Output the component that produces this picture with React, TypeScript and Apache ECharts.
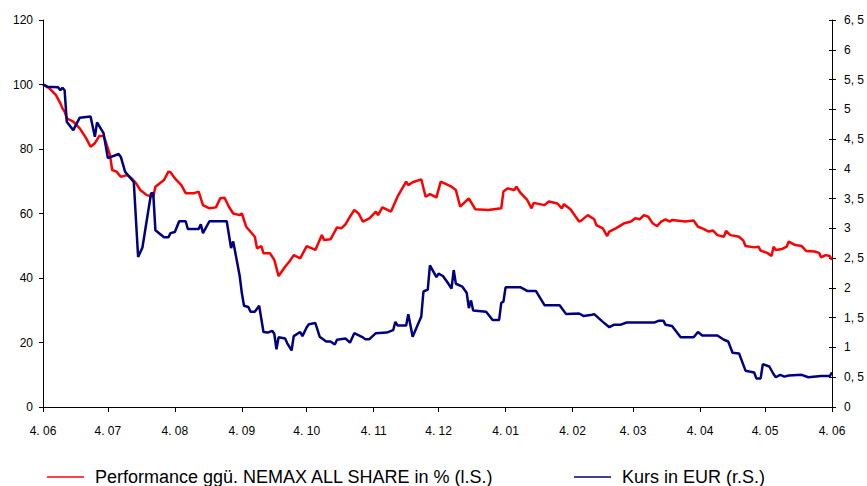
import React, { useEffect, useRef } from "react";
import * as echarts from "echarts";

// Daily axis: 4 June 2000 .. 4 June 2001
const startDate = [2000, 5, 4];
const dayCount = 366;

const redName = "Performance ggü. NEMAX ALL SHARE in % (l.S.)";
const blueName = "Kurs in EUR (r.S.)";

// [days since 4 June 2000, value in %]
const redPoints: [number, number][] = [
  [0, 100], [3, 98.8], [6, 96.7], [8, 94.2], [9, 92.6], [10, 91.6], [11, 89.5], [14, 88.5],
  [17, 86.4], [20, 83.3], [22, 80.7], [24, 81.8], [26, 84], [28, 84], [29, 82.3], [31, 78.1],
  [32, 73.5], [34, 73], [36, 71.4], [39, 71.9], [41, 70.9], [43, 69.4], [45, 67.3], [48, 65.7],
  [51, 65.2], [52, 68.3], [56, 70.4], [58, 73], [59, 72.8], [61, 70.9], [64, 68.8], [66, 66.3],
  [70, 66.3], [72, 66.8], [74, 62.6], [77, 61.6], [80, 61.9], [82, 64.7], [84, 64.9], [86, 62.1],
  [88, 60.0], [91, 59.5], [92, 60.0], [94, 55.9], [98, 52.8], [99, 49.2], [101, 49.9], [102, 47.7],
  [105, 47.7], [107, 45.6], [109, 40.6], [112, 43.5], [114, 45.1], [115, 46.1], [116, 47.1],
  [119, 46.1], [122, 49.9], [126, 48.7], [129, 53.3], [130, 51.8], [133, 52], [136, 55.7],
  [138, 55.4], [140, 56.7], [142, 59.0], [144, 61.1], [146, 60.0], [148, 57.5], [151, 58.5],
  [154, 60.6], [155, 59.5], [157, 61.9], [161, 60.6], [164, 65.2], [168, 69.9], [169, 68.8],
  [171, 69.7], [175, 70.6], [177, 65.2], [179, 66.0], [182, 65.0], [184, 69.9], [189, 68.3],
  [191, 67.3], [193, 62.1], [197, 64.7], [200, 61.3], [206, 61.1], [212, 61.6], [213, 66.8],
  [215, 67.8], [218, 67.3], [219, 68.3], [221, 66.3], [224, 64.2], [226, 61.6], [227, 63.3],
  [232, 62.6], [234, 63.7], [238, 63.1], [240, 61.6], [241, 62.9], [244, 61.3], [248, 57.5],
  [249, 57.8], [252, 59.5], [255, 58.2], [256, 56.4], [259, 55.4], [261, 53], [262, 54.4],
  [265, 55.4], [269, 57.0], [272, 57.5], [274, 58.5], [276, 58.2], [278, 59.5], [280, 59.0],
  [282, 57.0], [284, 56.1], [286, 57.5], [288, 58.2], [290, 57.5], [291, 58.0], [297, 57.5],
  [301, 57.8], [303, 55.9], [305, 55.4], [308, 54.4], [310, 54.7], [312, 53.3], [315, 52.8],
  [316, 54.6], [318, 53.3], [322, 52.8], [324, 51.6], [325, 49.9], [329, 49.5], [331, 49.7],
  [332, 48.5], [335, 47.8], [337, 46.8], [338, 49.7], [339, 48.7], [342, 49], [344, 49.7],
  [345, 51.3], [348, 50.2], [351, 49.9], [353, 48.4], [357, 48.2], [359, 47.8], [360, 46.4],
  [362, 47.1], [364, 46.8], [365, 45.6],
];

// [days since 4 June 2000, price in EUR]
const bluePoints: [number, number][] = [
  [0, 5.42], [2, 5.38], [7, 5.37], [8, 5.32], [9, 5.36], [10, 5.32], [11, 4.79], [14, 4.65],
  [17, 4.86], [22, 4.88], [24, 4.54], [25, 4.78], [28, 4.6], [30, 4.18], [35, 4.25], [36, 4.2],
  [38, 3.95], [42, 3.78], [44, 2.52], [46, 2.68], [50, 3.59], [51, 3.59], [52, 2.97], [56, 2.85],
  [58, 2.85], [59, 2.92], [61, 2.94], [63, 3.12], [66, 3.12], [67, 2.99], [72, 2.99], [73, 3.07],
  [74, 2.92], [77, 3.12], [85, 3.12], [87, 2.67], [88, 2.78], [91, 2.2], [92, 1.91], [93, 1.7],
  [95, 1.68], [96, 1.6], [98, 1.6], [100, 1.7], [102, 1.26], [104, 1.25], [106, 1.28], [107, 1.23],
  [108, 0.97], [109, 1.17], [112, 1.15], [113, 1.07], [115, 0.95], [116, 1.19], [119, 1.26],
  [120, 1.19], [122, 1.34], [123, 1.39], [126, 1.41], [128, 1.18], [131, 1.1], [133, 1.1],
  [135, 1.05], [136, 1.13], [140, 1.15], [142, 1.08], [144, 1.24], [148, 1.17], [149, 1.14],
  [151, 1.14], [154, 1.24], [159, 1.25], [162, 1.29], [163, 1.43], [164, 1.37], [168, 1.37],
  [169, 1.56], [171, 1.18], [175, 1.52], [176, 1.94], [178, 1.97], [179, 2.38], [182, 2.18],
  [183, 2.24], [185, 2.2], [187, 2.1], [189, 1.99], [190, 2.3], [191, 2.07], [194, 2.02],
  [196, 1.92], [197, 1.66], [198, 1.79], [199, 1.62], [205, 1.6], [208, 1.46], [211, 1.46],
  [212, 1.75], [213, 1.77], [214, 2.01], [221, 2.01], [224, 1.95], [228, 1.95], [232, 1.71],
  [239, 1.71], [242, 1.56], [248, 1.57], [250, 1.53], [254, 1.55], [255, 1.56], [259, 1.43],
  [262, 1.34], [264, 1.38], [267, 1.38], [270, 1.42], [283, 1.42], [285, 1.45], [287, 1.45],
  [288, 1.38], [291, 1.36], [295, 1.17], [301, 1.17], [303, 1.26], [305, 1.2], [312, 1.2],
  [315, 1.13], [317, 1.1], [319, 0.91], [322, 0.9], [325, 0.61], [329, 0.58], [330, 0.48],
  [332, 0.48], [333, 0.72], [336, 0.68], [338, 0.55], [339, 0.5], [341, 0.54], [343, 0.51],
  [345, 0.53], [351, 0.54], [354, 0.5], [360, 0.52], [364, 0.52], [365, 0.58],
];

const leftAxis = { min: 0, max: 120, interval: 20 };
const rightAxis = { min: 0, max: 6.5, interval: 0.5 };

const FONT = "'Liberation Sans', Arial, sans-serif";

function buildCategories(): string[] {
  const out: string[] = [];
  for (let i = 0; i < dayCount; i++) {
    const d = new Date(Date.UTC(startDate[0], startDate[1], startDate[2] + i));
    out.push(d.toISOString().slice(0, 10));
  }
  return out;
}

export default function App() {
  const ref = useRef<HTMLDivElement>(null);
  useEffect(() => {
    if (!ref.current) return;
    const chart = echarts.init(ref.current, undefined, { renderer: "svg" });
    const cats = buildCategories();
    const isTickDay = (_i: number, v: string) => v.slice(8, 10) === "04";
    const legendText = { fontSize: 18, fontFamily: FONT, color: "#000", padding: [0, 0, 0, 6] };
    chart.setOption({
      animation: false,
      backgroundColor: "#fff",
      grid: { left: 43, right: 33, top: 20, bottom: 79 },
      legend: [
        {
          left: 42, top: 463, data: [redName], icon: "rect", itemWidth: 37, itemHeight: 1.5,
          textStyle: legendText,
        },
        {
          left: 569, top: 463, data: [blueName], icon: "rect", itemWidth: 37, itemHeight: 1.5,
          textStyle: legendText,
        },
      ],
      xAxis: {
        type: "category",
        data: cats,
        boundaryGap: false,
        axisLine: { lineStyle: { color: "#000", width: 1 } },
        axisTick: { interval: isTickDay, length: 5, lineStyle: { color: "#000" } },
        axisLabel: {
          interval: isTickDay,
          formatter: (v: string) => `4. ${v.slice(5, 7)}`,
          fontSize: 12, fontFamily: FONT, color: "#000", margin: 18,
        },
        splitLine: { show: false },
      },
      yAxis: [
        {
          type: "value", position: "left", ...leftAxis,
          axisLine: { show: true, lineStyle: { color: "#000" } },
          axisTick: { show: true, length: 4, lineStyle: { color: "#000" } },
          axisLabel: { fontSize: 12, fontFamily: FONT, color: "#000", margin: 10 },
          splitLine: { show: false },
        },
        {
          type: "value", position: "right", ...rightAxis,
          axisLine: { show: true, lineStyle: { color: "#000" } },
          axisTick: { show: true, length: 4, lineStyle: { color: "#000" } },
          axisLabel: {
            fontSize: 12, fontFamily: FONT, color: "#000", margin: 12,
            formatter: (v: number) => String(v).replace(".", ", "),
          },
          splitLine: { show: false },
        },
        {
          type: "value", position: "right", ...rightAxis,
          axisLine: { show: false },
          axisTick: { show: true, inside: true, length: 3, lineStyle: { color: "#000" } },
          axisLabel: { show: false },
          splitLine: { show: false },
        },
      ],
      series: [
        {
          name: redName, type: "line", yAxisIndex: 0, data: redPoints,
          showSymbol: false, symbol: "none",
          lineStyle: { color: "#ff0000", width: 2.5 }, itemStyle: { color: "#ff0000" },
        },
        {
          name: blueName, type: "line", yAxisIndex: 1, data: bluePoints,
          showSymbol: false, symbol: "none",
          lineStyle: { color: "#000080", width: 2.5 }, itemStyle: { color: "#000080" },
        },
      ],
    });
    return () => chart.dispose();
  }, []);
  return (
    <div
      ref={ref}
      style={{ position: "absolute", left: 0, top: 0, width: 867, height: 486 }}
    />
  );
}
